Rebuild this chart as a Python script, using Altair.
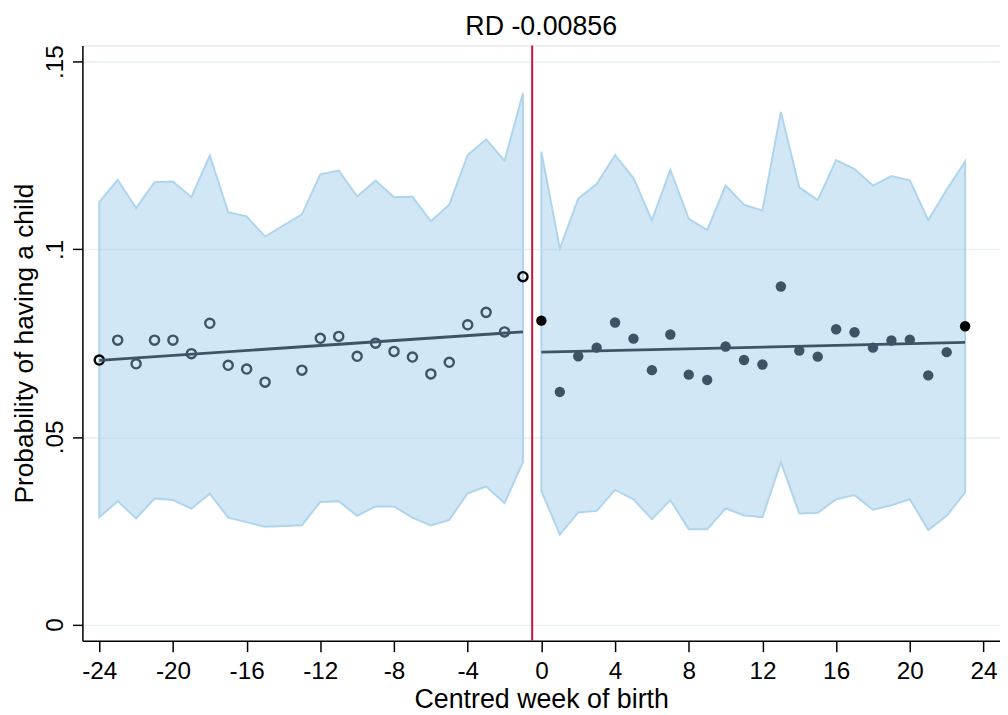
import altair as alt
import pandas as pd

# ---- data ----
weeks_left = [-24, -23, -22, -21, -20, -19, -18, -17, -16, -15, -13, -12, -11,
              -10, -9, -8, -7, -6, -5, -4, -3, -2, -1]
mean_left = [0.0705, 0.0758, 0.0695, 0.0758, 0.0758, 0.0722, 0.0803, 0.0691,
             0.0681, 0.0646, 0.0678, 0.0763, 0.0768, 0.0715, 0.0750, 0.0728,
             0.0713, 0.0668, 0.0699, 0.0799, 0.0832, 0.0780, 0.0927]
hi_left = [0.1126, 0.1185, 0.1110, 0.1179, 0.1181, 0.1139, 0.1250, 0.1099,
           0.1088, 0.1034, 0.1093, 0.1200, 0.1210, 0.1141, 0.1183, 0.1139,
           0.1140, 0.1075, 0.1119, 0.1251, 0.1293, 0.1236, 0.1416]
lo_left = [0.0286, 0.0329, 0.0283, 0.0336, 0.0332, 0.0309, 0.0349, 0.0285,
           0.0273, 0.0261, 0.0265, 0.0327, 0.0329, 0.0290, 0.0315, 0.0315,
           0.0285, 0.0264, 0.0279, 0.0350, 0.0368, 0.0324, 0.0433]

weeks_right = [0, 1, 2, 3, 4, 5, 6, 7, 8, 9, 10, 11, 12, 13, 14, 15, 16, 17,
               18, 19, 20, 21, 22, 23]
mean_right = [0.0810, 0.0620, 0.0715, 0.0738, 0.0805, 0.0762, 0.0678, 0.0773,
              0.0666, 0.0652, 0.0741, 0.0705, 0.0693, 0.0901, 0.0730, 0.0714,
              0.0787, 0.0779, 0.0738, 0.0757, 0.0759, 0.0664, 0.0726, 0.0795]
hi_right = [0.1260, 0.1002, 0.1135, 0.1174, 0.1251, 0.1190, 0.1077, 0.1212,
            0.1081, 0.1051, 0.1170, 0.1119, 0.1103, 0.1366, 0.1165, 0.1131,
            0.1238, 0.1214, 0.1170, 0.1195, 0.1184, 0.1078, 0.1159, 0.1234]
lo_right = [0.0356, 0.0240, 0.0299, 0.0303, 0.0359, 0.0334, 0.0281, 0.0332,
            0.0254, 0.0254, 0.0310, 0.0291, 0.0286, 0.0433, 0.0296, 0.0298,
            0.0334, 0.0345, 0.0306, 0.0318, 0.0334, 0.0252, 0.0290, 0.0352]

fit_left_x = [-24, -1]
fit_left_y = [0.0704, 0.0780]
fit_right_x = [0, 23]
fit_right_y = [0.0726, 0.0752]

cutoff = [-0.5]
x_ticks = [-24, -20, -16, -12, -8, -4, 0, 4, 8, 12, 16, 20, 24]
y_ticks = [0, 0.05, 0.1, 0.15]
title_text = ["RD -0.00856"]
x_title = "Centred week of birth"
y_title = "Probability of having a child"

# ---- tables ----
left = pd.DataFrame({"week": weeks_left, "mean": mean_left, "lo": lo_left,
                     "hi": hi_left, "side": "left"})
right = pd.DataFrame({"week": weeks_right, "mean": mean_right, "lo": lo_right,
                      "hi": hi_right, "side": "right"})
bins = pd.concat([left, right], ignore_index=True)
fits = pd.concat([
    pd.DataFrame({"week": fit_left_x, "fit": fit_left_y, "side": "left"}),
    pd.DataFrame({"week": fit_right_x, "fit": fit_right_y, "side": "right"}),
], ignore_index=True)
cut = pd.DataFrame({"week": cutoff})
ttl = pd.DataFrame({"label": title_text})

FONT = "Liberation Sans"
W, H = 925, 600

xscale = alt.Scale(domain=[-24.915, 24.895], nice=False, zero=False)
yscale = alt.Scale(domain=[-0.0043, 0.1543], nice=False, zero=False)

x_axis = alt.Axis(values=x_ticks, labelExpr="'' + datum.value", title=x_title,
                  grid=False, tickSize=11, tickWidth=1.5, tickColor="black",
                  domainColor="black", domainWidth=1.5, labelFont=FONT,
                  labelFontSize=24.5, labelColor="black", labelPadding=8,
                  titleFont=FONT, titleFontSize=27, titleFontWeight="normal",
                  titleColor="black", titleBaseline="alphabetic", titleY=67,
                  labelFlush=False, labelOverlap=False)
y_axis = alt.Axis(values=y_ticks,
                  labelExpr="datum.value == 0 ? '0' : substring(format(datum.value, '.2~f'), 1)",
                  title=y_title, grid=True, gridColor="#e6eff2", gridWidth=1.5,
                  tickSize=10, tickWidth=1.5, tickColor="black",
                  domainColor="black", domainWidth=1.5, labelFont=FONT,
                  labelFontSize=24.5, labelColor="black", labelAngle=270,
                  labelAlign="center", labelBaseline="alphabetic",
                  labelPadding=10, titleFont=FONT, titleFontSize=26.5,
                  titleFontWeight="normal", titleColor="black",
                  titleAngle=270, titleBaseline="alphabetic", titleX=-50.5,
                  labelFlush=False, labelOverlap=False)

base = alt.Chart(bins)

band = base.mark_area(color="#a6cfec", fillOpacity=0.5, stroke="#afd5ee",
                      strokeWidth=2, strokeOpacity=1).encode(
    x=alt.X("week:Q", scale=xscale, axis=x_axis),
    y=alt.Y("lo:Q", scale=yscale, axis=y_axis),
    y2="hi:Q",
    detail="side:N",
)

is_end = "datum.week == -24 || datum.week == -1 || datum.week == 0 || datum.week == 23"

hollow = base.transform_filter("datum.side == 'left'").mark_point(
    shape="circle", filled=False, size=85, strokeWidth=2.4, opacity=1).encode(
    x=alt.X("week:Q", scale=xscale),
    y=alt.Y("mean:Q", scale=yscale),
    stroke=alt.condition(is_end, alt.value("black"), alt.value("#3e5366")),
)

solid = base.transform_filter("datum.side == 'right'").mark_circle(
    size=110, opacity=1).encode(
    x=alt.X("week:Q", scale=xscale),
    y=alt.Y("mean:Q", scale=yscale),
    color=alt.condition(is_end, alt.value("black"), alt.value("#3e5366")),
)

fit = alt.Chart(fits).mark_line(color="#3e5366", strokeWidth=2.8).encode(
    x=alt.X("week:Q", scale=xscale),
    y=alt.Y("fit:Q", scale=yscale),
    detail="side:N",
)

rule = alt.Chart(cut).mark_rule(color="#c8143c", strokeWidth=2).encode(
    x=alt.X("week:Q", scale=xscale),
)

title = alt.Chart(ttl).mark_text(font=FONT, fontSize=27, color="black",
                                 align="center", baseline="alphabetic").encode(
    text="label:N",
    x=alt.value(W / 2),
    y=alt.value(-10.5),
)

chart = alt.layer(band, hollow, solid, fit, rule, title).properties(
    width=W, height=H,
    autosize=alt.AutoSizeParams(type="none"),
    padding={"left": 75, "top": 35, "right": 0, "bottom": 72},
).configure_view(stroke=None).configure(background="white")

chart.save("out.html", embed_options={"renderer": "svg", "actions": False})
